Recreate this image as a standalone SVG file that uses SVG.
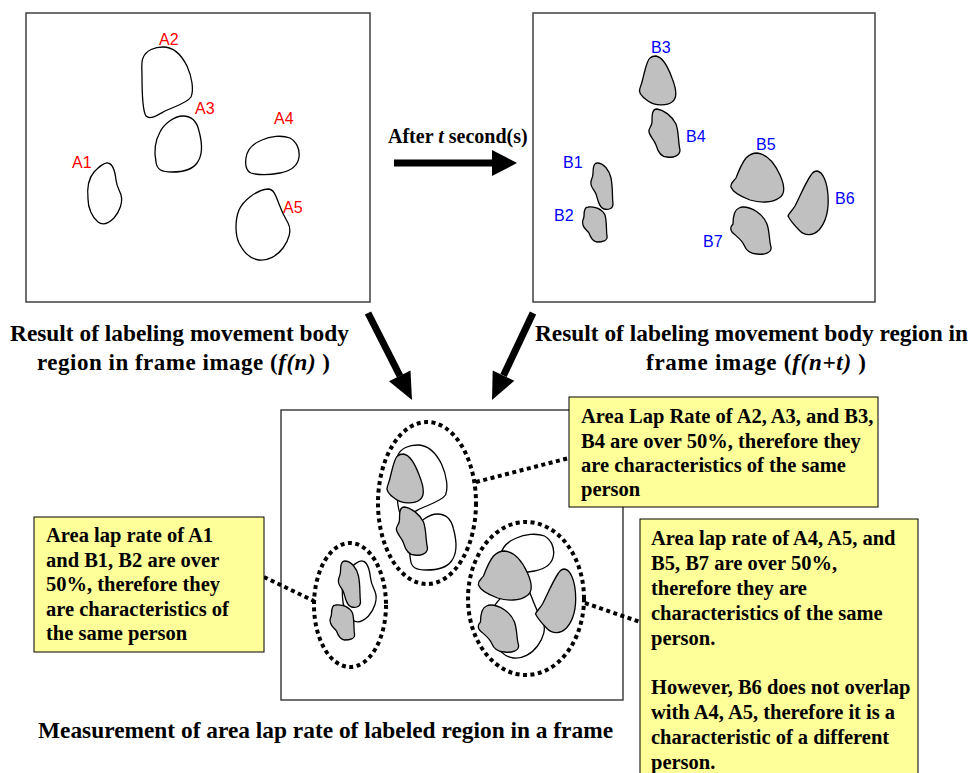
<svg xmlns="http://www.w3.org/2000/svg" width="971" height="773" viewBox="0 0 971 773">
<style>
.frame{fill:#fff;stroke:#404040;stroke-width:1.5}
.a{fill:#fff;stroke:#000;stroke-width:1.3}
.b{fill:#c0c0c0;stroke:#000;stroke-width:1.3}
.la{font-family:"Liberation Sans",Arial,sans-serif;font-size:16px;fill:#ff0000}
.lb{font-family:"Liberation Sans",Arial,sans-serif;font-size:16px;fill:#0000ff}
.cap{font-family:"Liberation Serif","Times New Roman",serif;font-weight:bold;font-size:23px;fill:#000}
.note{fill:#ffff99;stroke:#000;stroke-width:1}
.nt{font-family:"Liberation Serif","Times New Roman",serif;font-weight:bold;font-size:20.5px;fill:#000}
.dot{fill:none;stroke:#000;stroke-width:4;stroke-dasharray:4 3.5}
.arr{stroke:#000;stroke-width:7;fill:none}
</style>
<defs>
<path id="A1" d="M108,163 C113,164 115,171 116,180 C117,188 120,191 121,195 C123,202 120,211 114,218 C109,223 103,226 98,222 C92,217 88,208 88,199 C87,189 88,179 94,172 C99,167 104,162 108,163 Z"/>
<path id="A2" d="M143,58 C146,50 155,47 163,47 C174,47 182,56 187,66 C192,77 194,90 191,97 C187,103 176,106 165,111 C156,116 150,120 146,116 C142,110 142,90 142,76 C142,68 141,62 143,58 Z"/>
<path id="A3" d="M183,116 C192,116 197,122 199,131 C202,142 203,155 197,163 C192,170 182,172 172,172 C162,172 157,170 156,162 C154,152 155,141 160,132 C164,124 174,116 183,116 Z"/>
<path id="A4" d="M246,158 C247,150 252,144 262,140 C270,136 282,135 290,138 C297,142 300,150 299,157 C298,166 290,171 280,173 C270,175 258,175 251,173 C246,171 245,164 246,158 Z"/>
<path id="A5" d="M268,189 C274,189 276,196 279,204 C282,212 285,218 288,223 C292,230 289,240 283,248 C277,256 268,261 259,260 C250,259 243,251 239,243 C235,234 235,220 239,210 C243,201 256,190 268,189 Z"/>
<path id="B1" d="M597,163 C604,163 609,170 611,178 C613,188 612,196 613,204 C613,209 608,210 604,209 C599,208 598,200 596,194 C594,189 590,187 591,182 C591,179 593,178 593,173 C593,166 594,163 597,163 Z"/>
<path id="B2" d="M588,207 C595,206 602,209 605,215 C607,222 606,230 607,236 C608,241 602,242 597,242 C592,241 590,236 589,233 C587,230 584,229 583,225 C581,221 584,220 584,216 C584,210 585,207 588,207 Z"/>
<path id="B3" d="M656,56 C662,57 668,67 672,78 C676,88 678,98 672,102 C667,106 655,106 648,101 C642,97 638,92 640,88 C641,85 642,83 643,78 C645,70 647,60 650,58 C652,56 654,56 656,56 Z"/>
<path id="B4" d="M657,109 C664,110 672,116 676,124 C679,132 678,142 680,150 C680,156 673,158 667,157 C661,157 658,152 656,145 C654,139 650,137 649,132 C648,128 652,127 652,122 C652,115 652,109 657,109 Z"/>
<path id="B5" d="M757,153 C767,154 775,164 780,175 C784,184 786,194 779,198 C772,203 760,203 750,200 C742,197 733,193 731,187 C730,183 734,181 736,178 C739,170 742,163 746,158 C749,155 753,153 757,153 Z"/>
<path id="B6" d="M817,171 C823,172 827,182 828,195 C829,210 826,222 819,230 C813,236 805,236 800,231 C795,226 790,220 788,216 C789,213 792,211 795,206 C800,196 806,182 811,175 C813,172 815,171 817,171 Z"/>
<path id="B7" d="M743,207 C752,207 763,214 767,224 C770,233 769,241 771,247 C772,253 764,255 757,254 C750,254 746,250 744,245 C742,240 736,236 732,232 C730,229 731,226 733,224 C733,217 734,210 739,208 C741,207 742,207 743,207 Z"/>
</defs>
<rect width="971" height="773" fill="#fff"/>

<g id="frame-n">
<rect class="frame" x="26" y="13" width="344" height="289"/>
<use href="#A1" class="a"/><use href="#A2" class="a"/><use href="#A3" class="a"/><use href="#A4" class="a"/><use href="#A5" class="a"/>
<text class="la" x="72" y="168">A1</text>
<text class="la" x="159" y="45">A2</text>
<text class="la" x="195" y="114">A3</text>
<text class="la" x="274" y="124">A4</text>
<text class="la" x="283" y="213">A5</text>
</g>

<g id="frame-nt">
<rect class="frame" x="533" y="13" width="342" height="289"/>
<use href="#B1" class="b"/><use href="#B2" class="b"/><use href="#B3" class="b"/><use href="#B4" class="b"/><use href="#B5" class="b"/><use href="#B6" class="b"/><use href="#B7" class="b"/>
<text class="lb" x="563" y="168">B1</text>
<text class="lb" x="554" y="221">B2</text>
<text class="lb" x="651" y="53">B3</text>
<text class="lb" x="686" y="142">B4</text>
<text class="lb" x="756" y="150">B5</text>
<text class="lb" x="835" y="204">B6</text>
<text class="lb" x="703" y="247">B7</text>
</g>

<g id="label-n">
<text class="cap" x="10" y="341" textLength="339" lengthAdjust="spacingAndGlyphs">Result of labeling movement body</text>
<text class="cap" x="37" y="370" textLength="293" lengthAdjust="spacing">region in frame image  (<tspan font-style="italic">f(n)</tspan> )</text>
</g>
<g id="label-nt">
<text class="cap" x="535" y="341" textLength="433" lengthAdjust="spacingAndGlyphs">Result of labeling movement body region in</text>
<text class="cap" x="646" y="370" textLength="220" lengthAdjust="spacing">frame image  (<tspan font-style="italic">f(n+t)</tspan> )</text>
</g>
<g id="label-after">
<text class="cap" x="388" y="143" style="font-size:20px">After <tspan font-style="italic">t</tspan> second(s)</text>
</g>

<g id="frame-measure">
<rect class="frame" x="281" y="410" width="342" height="290"/>
<g transform="translate(254.5,398)">
<use href="#A1" class="a"/><use href="#A2" class="a"/><use href="#A3" class="a"/><use href="#A4" class="a"/><use href="#A5" class="a"/>
</g>
<g transform="translate(-252.5,398)">
<use href="#B1" class="b"/><use href="#B2" class="b"/><use href="#B3" class="b"/><use href="#B4" class="b"/><use href="#B5" class="b"/><use href="#B6" class="b"/><use href="#B7" class="b"/>
</g>
<ellipse class="dot" cx="350" cy="605" rx="36" ry="62"/>
<ellipse class="dot" cx="427" cy="503" rx="49" ry="81"/>
<ellipse class="dot" cx="526" cy="598.5" rx="58" ry="76.5"/>
</g>
<g id="caption-measure">
<text class="cap" x="38" y="738" textLength="575" lengthAdjust="spacingAndGlyphs">Measurement of area lap rate of labeled region in a frame</text>
</g>

<g id="connectors">
<line class="arr" x1="394" y1="163" x2="495" y2="163"/>
<polygon points="492,150 517,163 492,176" fill="#000"/>
<line class="arr" x1="368" y1="313" x2="400" y2="376"/>
<polygon points="389,381.3 412,400 410.5,370.5" fill="#000"/>
<line class="arr" x1="533" y1="313" x2="503.5" y2="375.6"/>
<polygon points="514.3,380.7 492,400 492.7,370.5" fill="#000"/>
<line class="dot" x1="476" y1="482" x2="569" y2="458"/>
<line class="dot" x1="264" y1="577" x2="314" y2="601"/>
<line class="dot" x1="585" y1="603" x2="640" y2="622"/>
</g>

<g id="note-top">
<rect class="note" x="569" y="397" width="309" height="110"/>
<text class="nt" x="581" y="423">Area Lap Rate of A2, A3, and B3,</text>
<text class="nt" x="581" y="448">B4 are over 50%, therefore they</text>
<text class="nt" x="581" y="472">are characteristics of the same</text>
<text class="nt" x="581" y="496">person</text>
</g>
<g id="note-left">
<rect class="note" x="34" y="517" width="230" height="135"/>
<text class="nt" x="46" y="542">Area lap rate of A1</text>
<text class="nt" x="46" y="567">and B1, B2 are over</text>
<text class="nt" x="46" y="591">50%, therefore they</text>
<text class="nt" x="46" y="616">are characteristics of</text>
<text class="nt" x="46" y="640">the same person</text>
</g>
<g id="note-right">
<rect class="note" x="640" y="519" width="278" height="270"/>
<text class="nt" x="651" y="545">Area lap rate of A4, A5, and</text>
<text class="nt" x="651" y="570">B5, B7 are over 50%,</text>
<text class="nt" x="651" y="595">therefore they are</text>
<text class="nt" x="651" y="620">characteristics of the same</text>
<text class="nt" x="651" y="645">person.</text>
<text class="nt" x="651" y="694">However, B6 does not overlap</text>
<text class="nt" x="651" y="719">with A4, A5, therefore it is a</text>
<text class="nt" x="651" y="744">characteristic of a different</text>
<text class="nt" x="651" y="769">person.</text>
</g>
</svg>
